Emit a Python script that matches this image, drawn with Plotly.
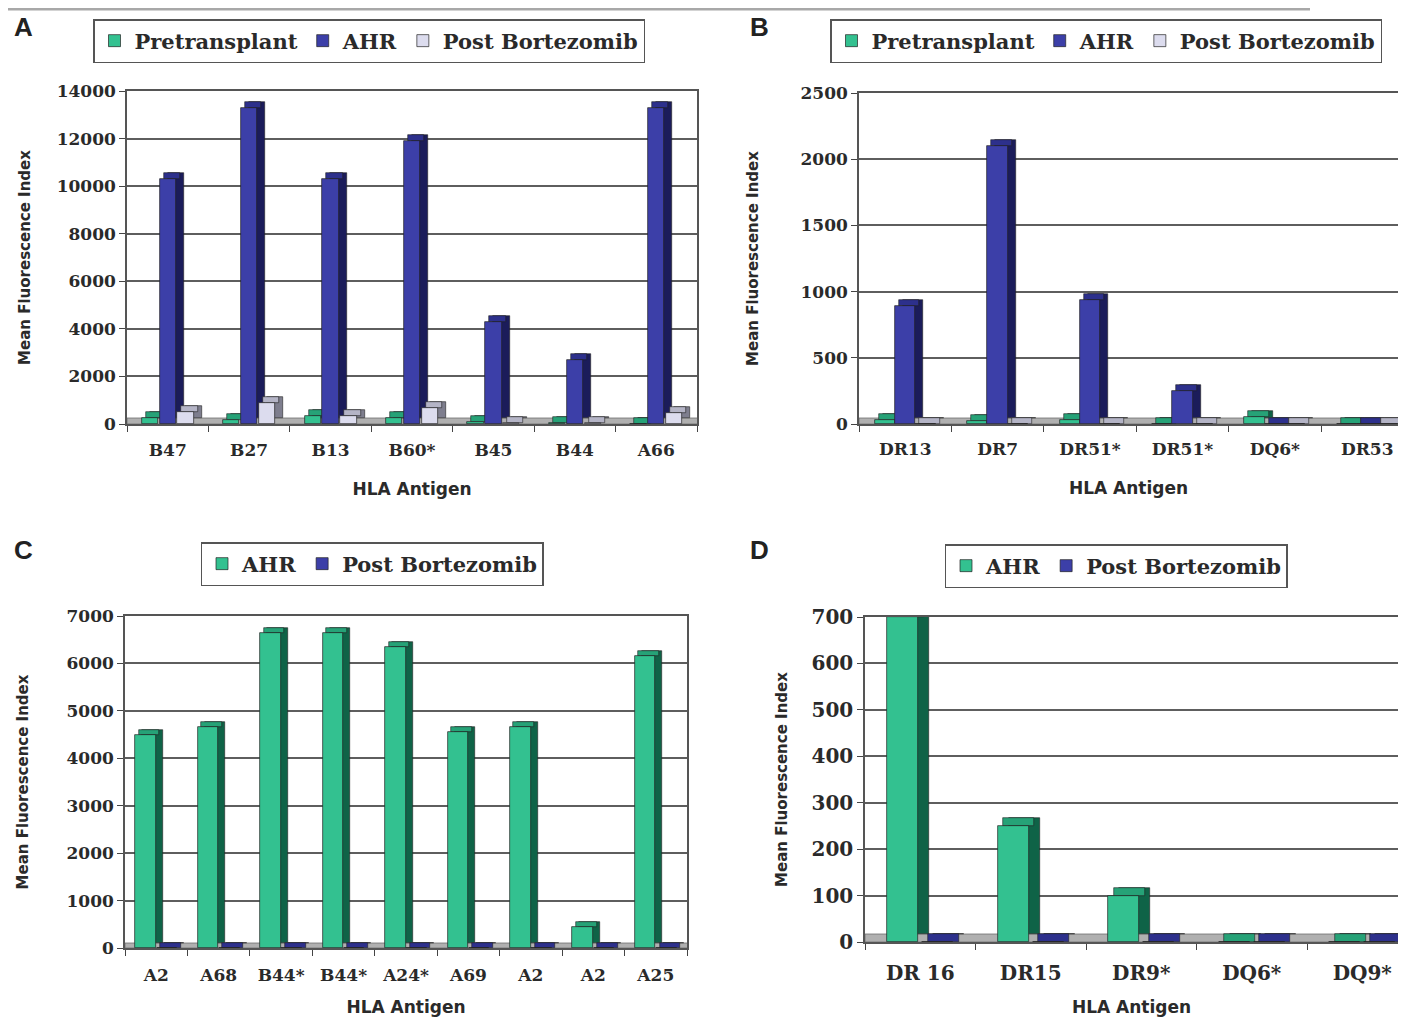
import plotly.graph_objects as go

# The page body has an 8px margin, so the figure is sized to fit the window
FW, FH = 1390, 1009
OX, OY = 8, 8

# ---------------- data ----------------
a_cats = ["B47", "B27", "B13", "B60*", "B45", "B44", "A66"]
a_pre = [260, 150, 330, 260, 100, 60, 0]
a_ahr = [10300, 13300, 10300, 11900, 4300, 2700, 13300]
a_post = [520, 880, 330, 680, 40, 40, 450]

b_cats = ["DR13", "DR7", "DR51*", "DR51*", "DQ6*", "DR53"]
b_pre = [30, 20, 30, 0, 50, 0]
b_ahr = [890, 2100, 940, 250, 0, 0]
b_post = [0, 0, 0, 0, 0, 0]

c_cats = ["A2", "A68", "B44*", "B44*", "A24*", "A69", "A2", "A2", "A25"]
c_ahr = [4500, 4650, 6650, 6650, 6350, 4550, 4650, 450, 6150]
c_post = [0, 0, 0, 0, 0, 0, 0, 0, 0]

d_cats = ["DR 16", "DR15", "DR9*", "DQ6*", "DQ9*"]
d_ahr = [700, 250, 100, 0, 0]
d_post = [0, 0, 0, 0, 0]

# ---------------- styles ----------------
GREEN = dict(front="#33c190", top="#26a277", side="#0f6347")
BLUE = dict(front="#3c3fa8", top="#2d308c", side="#1b1c5a")
LAV = dict(front="#dcdcee", top="#b4b4c6", side="#7e7e8e")

SERIF = "DejaVu Serif"
SANS = "DejaVu Sans"

fig = go.Figure()


def px_x(X):
    return min(1.0, max(0.0, (X - OX) / FW))


def px_y(Y):
    return min(1.0, max(0.0, 1 - (Y - OY) / FH))


SCREEN_RIGHT = OX + FW

panels = [
    dict(key="", cats=a_cats, yr=14000, dt=2000,
         series=[("Pretransplant", a_pre, GREEN), ("AHR", a_ahr, BLUE), ("Post Bortezomib", a_post, LAV)],
         dom_x=(127, 697), dom_y=(91, 424), xr_end=6.5, offs=[-0.22, 0, 0.22], w=0.2,
         depth=(8, 6), tick=17, leg=dict(cx=369, top=19), letter=("A", 12, 10),
         ystand=22, xstand=24, tls=10),
    dict(key="2", cats=b_cats, yr=2500, dt=500,
         series=[("Pretransplant", b_pre, GREEN), ("AHR", b_ahr, BLUE), ("Post Bortezomib", b_post, LAV)],
         dom_x=(859, SCREEN_RIGHT), dom_y=(93, 424), xr_end=-0.5 + (SCREEN_RIGHT - 859) / 92.4,
         offs=[-0.22, 0, 0.22], w=0.22,
         depth=(8, 6), tick=17, leg=dict(cx=1106, top=19), letter=("B", 748, 10),
         ystand=38, xstand=24, tls=9),
    dict(key="3", cats=c_cats, yr=7000, dt=1000,
         series=[("AHR", c_ahr, GREEN), ("Post Bortezomib", c_post, BLUE)],
         dom_x=(125, 687), dom_y=(616, 948), xr_end=8.5, offs=[-0.17, 0.17], w=0.33,
         depth=(7, 5), tick=17, leg=dict(cx=372, top=542), letter=("C", 12, 533),
         ystand=34, xstand=24, tls=11),
    dict(key="4", cats=d_cats, yr=700, dt=100,
         series=[("AHR", d_ahr, GREEN), ("Post Bortezomib", d_post, BLUE)],
         dom_x=(865, SCREEN_RIGHT), dom_y=(617, 942), xr_end=-0.5 + (SCREEN_RIGHT - 865) / 110.5,
         offs=[-0.16, 0.16], w=0.28,
         depth=(11, 8), tick=20, leg=dict(cx=1116, top=544), letter=("D", 748, 533),
         ystand=20, xstand=24, tls=12),
]

shapes = []
annotations = []

for p in panels:
    k = p["key"]
    xa = "x" + k
    ya = "y" + k
    legname = "legend" + k
    n = len(p["cats"])
    xr = (-0.5, p["xr_end"])
    plot_w = p["dom_x"][1] - p["dom_x"][0]
    plot_h = p["dom_y"][1] - p["dom_y"][0]
    dx = p["depth"][0] * (xr[1] - xr[0]) / plot_w
    dy = p["depth"][1] * p["yr"] / plot_h
    w = p["w"]

    # floor strip
    shapes.append(dict(type="rect", xref=xa, yref=ya, x0=-0.5, x1=xr[1] + 1, y0=0, y1=dy,
                       fillcolor="#b0b0b0", line=dict(width=0.8, color="#6f6f6f"), layer="between"))

    for si, (name, vals, col) in enumerate(p["series"]):
        xs = [i + p["offs"][si] for i in range(n)]
        # side face (shifted copy behind the front)
        fig.add_trace(go.Bar(
            x=[x + dx for x in xs], y=vals, base=[dy] * n, width=w,
            marker=dict(color=col["side"], line=dict(width=0.6, color="#222222")),
            xaxis=xa, yaxis=ya, showlegend=False, hoverinfo="skip"))
        # top face
        fig.add_trace(go.Bar(
            x=[x + dx / 2 for x in xs], y=[dy] * n, base=vals, width=w,
            marker=dict(color=col["top"], line=dict(width=0.6, color="#222222")),
            xaxis=xa, yaxis=ya, showlegend=False, hoverinfo="skip"))
        # front face
        fig.add_trace(go.Bar(
            x=xs, y=vals, width=w, name=name,
            marker=dict(color=col["front"], line=dict(width=0.7, color="#222222")),
            xaxis=xa, yaxis=ya, legend=legname, showlegend=True))

    fig.update_layout(**{
        "xaxis" + k: dict(
            domain=[px_x(p["dom_x"][0]), px_x(p["dom_x"][1])],
            range=list(xr), anchor=ya, automargin=False,
            tickmode="array", tickvals=list(range(n)), ticktext=p["cats"],
            ticks="", showgrid=False, zeroline=False, ticklabelstandoff=p["tls"],
            showline=True, linecolor="#555555", linewidth=1.5, mirror=True,
            minor=dict(tickmode="array", tickvals=[i - 0.5 for i in range(n + 1)],
                       ticks="outside", ticklen=6, tickcolor="#444444", tickwidth=1.2,
                       showgrid=False),
            tickfont=dict(family=SERIF, size=p["tick"], color="#2a2a2a", weight="bold"),
            title=dict(text="HLA Antigen", standoff=p["xstand"],
                       font=dict(family=SANS, size=17, color="#2a2a2a", weight="bold")),
            fixedrange=True),
        "yaxis" + k: dict(
            domain=[px_y(p["dom_y"][1]), px_y(p["dom_y"][0])],
            range=[0, p["yr"]], anchor=xa, dtick=p["dt"], tick0=0, tickformat="d",
            automargin=False,
            ticks="outside", ticklen=6, tickcolor="#444444", tickwidth=1.2,
            showgrid=True, gridcolor="#5e5e5e", gridwidth=1.6, zeroline=False,
            showline=True, linecolor="#555555", linewidth=1.5, mirror=True,
            tickfont=dict(family=SERIF, size=p["tick"], color="#2a2a2a", weight="bold"),
            title=dict(text="Mean Fluorescence Index", standoff=p["ystand"],
                       font=dict(family=SANS, size=15, color="#2a2a2a", weight="bold")),
            fixedrange=True),
        legname: dict(
            x=px_x(p["leg"]["cx"]), xanchor="center", y=px_y(p["leg"]["top"]), yanchor="top",
            orientation="h", bordercolor="#555555", borderwidth=1.5, bgcolor="white",
            font=dict(family=SERIF, size=21, color="#2a2a2a", weight="bold"),
            itemwidth=30, tracegroupgap=0, traceorder="normal"),
    })

    letter, lx, ly = p["letter"]
    annotations.append(dict(text=letter, xref="paper", yref="paper", x=px_x(lx), y=px_y(ly),
                            xanchor="left", yanchor="top", showarrow=False,
                            font=dict(family="Liberation Sans", size=26, color="#222222", weight="bold")))

# thin gray rule along the very top of the figure
shapes.append(dict(type="line", xref="paper", yref="paper", x0=0, x1=px_x(1310), y0=0.999, y1=0.999,
                   line=dict(color="#a8a8a8", width=3)))

fig.update_layout(
    width=FW, height=FH, margin=dict(l=0, r=0, t=0, b=0, autoexpand=False),
    paper_bgcolor="white", plot_bgcolor="white",
    barmode="overlay", bargap=0,
    shapes=shapes, annotations=annotations,
)

fig.write_html("out.html")
